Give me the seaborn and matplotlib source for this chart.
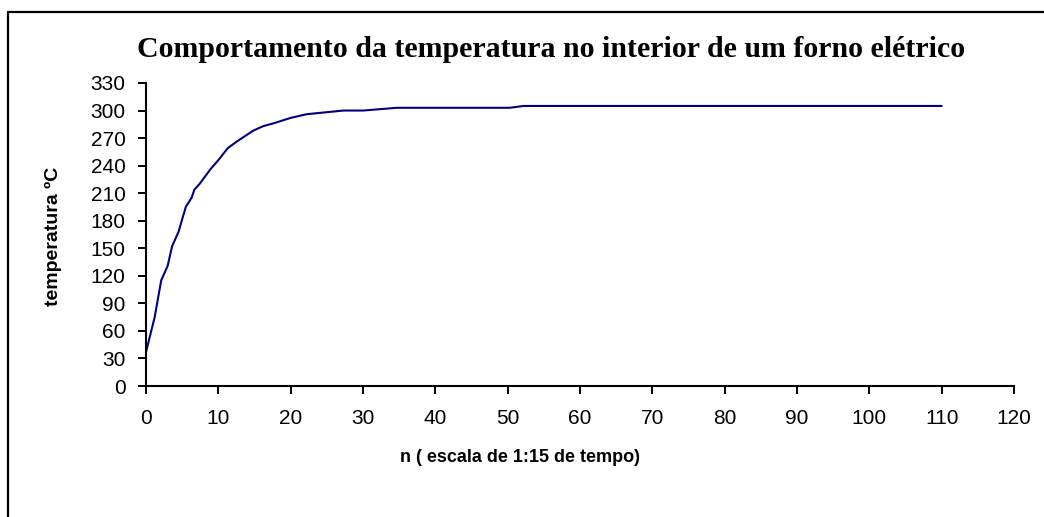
"""Temperatura no interior de um forno elétrico."""

import matplotlib
matplotlib.use("Agg")
import matplotlib.pyplot as plt
import seaborn as sns
from matplotlib.lines import Line2D
from matplotlib.transforms import Bbox

n_values = [0, 1.2, 2.1, 3.0, 3.6, 4.5, 5.5, 6.3, 6.7, 7.4, 8.9, 10, 11.3, 12.5,
            14.8, 16.2, 17.6, 20, 22.2, 27.3, 30, 34.7, 50.3, 52.2, 110]
temperatura = [37, 75, 115, 131, 152, 168, 195, 205, 214, 220, 236, 246, 259, 266,
               278, 283, 286, 292, 296, 300, 300, 303, 303, 305, 305]
x_ticks = list(range(0, 121, 10))
y_ticks = list(range(0, 331, 30))

sns.set_theme(style="white")
plt.rcParams["font.family"] = ["Liberation Sans", "DejaVu Sans"]
plt.rcParams["text.color"] = "black"

W, H = 1044, 517
fig = plt.figure(figsize=(W / 100, H / 100), dpi=100)
ax = fig.add_axes([146 / W, (H - 386) / H, 868 / W, 303 / H])

sns.lineplot(x=n_values, y=temperatura, ax=ax, color="#000080", linewidth=1.5,
             sort=False, estimator=None)

ax.set_xlim(0, 120)
ax.set_ylim(0, 330)
ax.set_xticks(x_ticks)
ax.set_yticks(y_ticks)
ax.tick_params(axis="both", direction="out", length=5.8, width=1.4, color="black",
               labelsize=15, labelcolor="black", left=True, bottom=True)
ax.tick_params(axis="x", pad=11)
ax.tick_params(axis="y", pad=9)
for side in ("top", "right"):
    ax.spines[side].set_visible(False)
for side in ("left", "bottom"):
    ax.spines[side].set_color("black")
    ax.spines[side].set_linewidth(1.5)

ax.set_xlabel("")
ax.set_ylabel("")
fig.text(520 / W, 1 - 457 / H, "n ( escala de 1:15 de tempo)", ha="center", va="center",
         fontsize=13, fontweight="bold")
ylab = fig.text(53 / W, 1 - 236 / H, "temperatura ºC", ha="center", va="center",
                rotation=90, fontsize=14, fontweight="bold")
ylab.set_clip_box(Bbox.from_extents(0, 0, W, H - 158))
ylab.set_clip_on(True)

fig.text(551 / W, 1 - 57 / H, "Comportamento da temperatura no interior de um forno elétrico",
         ha="center", va="baseline", fontsize=21.5, fontweight="bold",
         family=["Liberation Serif", "DejaVu Serif"])

# outer chart frame (left and top edges visible)
fig.add_artist(Line2D([7.5 / W, 7.5 / W], [0, 1 - 12 / H], transform=fig.transFigure,
                      color="black", linewidth=1.6))
fig.add_artist(Line2D([7.5 / W, 1], [1 - 12 / H, 1 - 12 / H], transform=fig.transFigure,
                      color="black", linewidth=1.6))

fig.savefig("out.png", dpi=100)
plt.close(fig)
